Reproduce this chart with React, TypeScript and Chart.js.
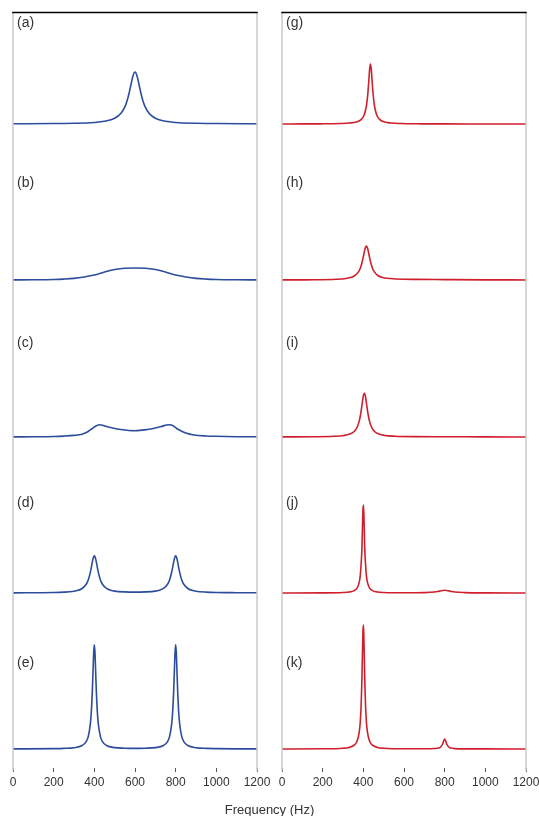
import React, { useEffect, useRef } from "react";
import { Chart, registerables } from "chart.js";

Chart.register(...registerables);

// ---- data (frequency in Hz, amplitude in arbitrary units) ----
const FREQ_MIN = 0;
const FREQ_MAX = 1200;
const FREQ_STEP = 200;

const LEFT_LABELS = ["(a)", "(b)", "(c)", "(d)", "(e)"];
const RIGHT_LABELS = ["(g)", "(h)", "(i)", "(j)", "(k)"];

const panelA: [number, number][] = [
  [0, 0.2], [200, 0.5], [300, 0.7], [400, 1.5], [450, 2.7], [500, 5.7], [530, 10.4], [550, 17.1],
  [560, 22.5], [570, 30], [580, 39.2], [590, 48.1], [600, 52], [610, 48.1], [620, 39.2], [630, 30],
  [640, 22.5], [650, 17.1], [670, 10.4], [700, 5.7], [750, 2.7], [800, 1.5], [900, 0.7], [1000, 0.5], [1200, 0.2],
];
const panelB: [number, number][] = [
  [0, 0.1], [100, 0.2], [200, 0.5], [250, 0.9], [300, 1.6], [350, 3], [400, 5], [420, 6], [450, 8],
  [500, 10.5], [550, 11.8], [600, 12], [650, 11.8], [700, 10.5], [750, 8], [780, 6], [800, 5],
  [850, 3], [900, 1.6], [950, 0.9], [1000, 0.5], [1100, 0.2], [1200, 0.1],
];
const panelC: [number, number][] = [
  [0, 0.1], [100, 0.2], [200, 0.5], [250, 0.9], [300, 1.6], [340, 2.8], [370, 5.5], [390, 8.5],
  [410, 11.2], [425, 12.3], [440, 11.8], [460, 10.5], [490, 9], [530, 7.5], [600, 6.3], [660, 7.5],
  [700, 9], [730, 10.5], [755, 12], [770, 12.3], [785, 11.5], [805, 8.5], [825, 6.3], [850, 4],
  [890, 2], [950, 1], [1000, 0.7], [1100, 0.3], [1200, 0.2],
];
const panelD: [number, number][] = [
  [0, 0.14], [200, 0.5], [250, 0.86], [300, 1.8], [320, 2.7], [340, 4.5], [360, 8.7], [370, 13],
  [380, 20.4], [385, 25.4], [390, 30.8], [395, 35.3], [400, 37.1], [405, 35.3], [410, 30.8], [415, 25.4],
  [420, 20.4], [430, 13], [440, 8.7], [460, 4.55], [480, 2.8], [500, 1.9], [550, 1.1], [600, 0.88],
  [650, 1.1], [700, 1.9], [720, 2.8], [740, 4.55], [760, 8.8], [770, 13.1], [780, 20.5], [785, 25.4],
  [790, 30.8], [795, 35.3], [800, 37.1], [805, 35.3], [810, 30.8], [815, 25.3], [820, 20.4], [830, 13],
  [840, 8.7], [860, 4.5], [880, 2.7], [900, 1.8], [950, 0.9], [1000, 0.5], [1100, 0.3], [1200, 0.2],
];
const panelE: [number, number][] = [
  [0, 0.1], [200, 0.35], [250, 0.6], [300, 1.3], [340, 3.5], [360, 7.4], [370, 12.4], [380, 24.3],
  [385, 36.5], [390, 57.1], [394, 80.3], [397, 96.9], [400, 104.1], [403, 96.9], [406, 80.3], [410, 57.1],
  [415, 36.5], [420, 24.3], [430, 12.4], [440, 7.4], [460, 3.5], [500, 1.4], [550, 0.8], [600, 0.62],
  [650, 0.8], [700, 1.4], [740, 3.5], [760, 7.4], [770, 12.4], [780, 24.3], [785, 36.5], [790, 57.1],
  [794, 80.3], [797, 96.9], [800, 104.1], [803, 96.9], [806, 80.3], [810, 57.1], [815, 36.5], [820, 24.3],
  [830, 12.4], [840, 7.4], [860, 3.5], [900, 1.3], [950, 0.6], [1000, 0.35], [1100, 0.15], [1200, 0.1],
];
const panelG: [number, number][] = [
  [0, 0.05], [100, 0.1], [185, 0.16], [285, 0.45], [335, 1.0], [365, 2.0], [390, 4.6], [405, 9.5],
  [415, 17.8], [422, 30], [427, 43.5], [431, 54.8], [435, 60], [439, 54.8], [443, 43.5], [448, 30],
  [455, 17.8], [465, 9.5], [480, 4.6], [505, 2.0], [535, 1.0], [585, 0.45], [685, 0.16], [800, 0.08],
  [1000, 0.04], [1200, 0.02],
];
const panelH: [number, number][] = [
  [0, 0.1], [100, 0.15], [165, 0.26], [265, 0.73], [315, 1.56], [335, 2.4], [355, 4.0], [375, 7.9],
  [385, 11.8], [393, 17], [400, 23.2], [405, 28.2], [410, 32.3], [415, 34], [420, 32.3], [425, 28.2],
  [430, 23.2], [437, 17], [445, 11.8], [455, 7.9], [475, 4.0], [495, 2.5], [515, 1.7], [565, 1.0],
  [665, 0.6], [800, 0.4], [1000, 0.15], [1200, 0.05],
];
const panelI: [number, number][] = [
  [0, 0.1], [155, 0.25], [255, 0.7], [305, 1.53], [330, 2.65], [355, 5.5], [370, 10], [380, 16.1],
  [386, 22], [390, 27.1], [395, 34.5], [400, 41.1], [405, 44], [410, 41.1], [415, 34.5], [420, 27.1],
  [424, 22], [430, 16.1], [440, 10], [455, 5.5], [480, 2.65], [505, 1.53], [555, 0.8], [655, 0.4],
  [800, 0.3], [1000, 0.1], [1200, 0.05],
];
const panelJ: [number, number][] = [
  [0, 0.03], [200, 0.12], [300, 0.49], [330, 1.0], [355, 2.4], [370, 5.2], [380, 10.9], [385, 17.6],
  [390, 31.7], [393, 44], [396, 68.5], [398, 82.2], [400, 88], [402, 82.2], [404, 68.5], [407, 44],
  [410, 31.7], [415, 17.6], [420, 10.9], [430, 5.2], [445, 2.4], [470, 1.0], [500, 0.5], [600, 0.2],
  [700, 0.4], [750, 1.0], [775, 1.9], [800, 2.7], [825, 1.9], [850, 1.0], [900, 0.4], [1000, 0.15],
  [1200, 0.05],
];
const panelK: [number, number][] = [
  [0, 0.05], [200, 0.2], [300, 0.8], [330, 1.6], [355, 3.8], [370, 8.2], [380, 17.1], [385, 27.4],
  [389, 42.9], [392, 62], [394, 79.4], [396, 99.2], [398, 116.7], [400, 124], [402, 116.7], [404, 99.2],
  [406, 79.4], [408, 62], [411, 42.9], [415, 27.4], [420, 17.1], [430, 8.2], [445, 3.8], [470, 1.6],
  [500, 0.8], [600, 0.25], [700, 0.25], [750, 0.5], [770, 1.0], [780, 2.0], [790, 5], [795, 8],
  [800, 10], [805, 8], [810, 5], [820, 2], [830, 1], [850, 0.4], [900, 0.15], [1000, 0.08], [1200, 0.05],
];

const LEFT_SERIES = [panelA, panelB, panelC, panelD, panelE];
const RIGHT_SERIES = [panelG, panelH, panelI, panelJ, panelK];

// ---- layout (in y-scale units = px above the plot bottom) ----
const Y_MAX = 756;
const OFFSETS = [644, 488, 331, 175, 19];
const LABEL_Y = [745, 585, 425, 265, 105];

const FONT = "'Liberation Sans', Arial, Helvetica, sans-serif";
const BLUE = "#2c4c9c";
const RED = "#cf1f2c";

function makeDecor(labels: string[]) {
  return {
    id: "decor",
    afterDraw(chart: any) {
      const { ctx, chartArea: a, scales } = chart;
      const y = scales.y;
      ctx.save();
      ctx.strokeStyle = "#c9c9c9";
      ctx.lineWidth = 1.5;
      ctx.beginPath();
      ctx.moveTo(a.left, a.top);
      ctx.lineTo(a.left, a.bottom + 3);
      ctx.moveTo(a.right, a.top);
      ctx.lineTo(a.right, a.bottom + 3);
      ctx.stroke();
      ctx.strokeStyle = "#000";
      ctx.lineWidth = 1.5;
      ctx.beginPath();
      ctx.moveTo(a.left - 0.75, Math.round(a.top) + 0.5);
      ctx.lineTo(a.right + 0.75, Math.round(a.top) + 0.5);
      ctx.stroke();
      ctx.fillStyle = "#333";
      ctx.font = `14px ${FONT}`;
      ctx.textBaseline = "middle";
      ctx.textAlign = "left";
      labels.forEach((t, i) => {
        ctx.fillText(t, a.left + 4, y.getPixelForValue(LABEL_Y[i]));
      });
      ctx.restore();
    },
  };
}

function Column(props: {
  series: [number, number][][];
  labels: string[];
  color: string;
  left: number;
  width: number;
  padL: number;
  padR: number;
}) {
  const ref = useRef<HTMLCanvasElement | null>(null);
  useEffect(() => {
    if (!ref.current) return;
    const chart = new Chart(ref.current, {
      type: "line",
      data: {
        datasets: props.series.map((s, i) => ({
          data: s.map(([f, v]) => ({ x: f, y: v + OFFSETS[i] })),
          borderColor: props.color,
          borderWidth: 1.6,
          pointRadius: 0,
          fill: false,
          cubicInterpolationMode: "monotone" as const,
        })),
      },
      options: {
        animation: false,
        responsive: false,
        events: [],
        layout: { padding: { left: props.padL, right: props.padR, top: 12, bottom: 18 } },
        plugins: { legend: { display: false }, tooltip: { enabled: false } },
        scales: {
          x: {
            type: "linear",
            min: FREQ_MIN,
            max: FREQ_MAX,
            border: { display: false },
            grid: {
              display: true,
              drawOnChartArea: false,
              drawTicks: true,
              tickLength: 4,
              color: "#555",
              lineWidth: 1,
            },
            ticks: {
              stepSize: FREQ_STEP,
              autoSkip: false,
              maxRotation: 0,
              color: "#333",
              padding: 3,
              font: { family: FONT, size: 12 },
              callback: (v: any) => String(v),
            },
            afterFit: (scale: any) => {
              scale.height = 30;
              scale.paddingLeft = 0;
              scale.paddingRight = 0;
            },
          },
          y: { type: "linear", display: false, min: 0, max: Y_MAX },
        },
      },
      plugins: [makeDecor(props.labels)],
    });
    return () => chart.destroy();
  }, []);
  return (
    <canvas
      ref={ref}
      width={props.width}
      height={816}
      style={{ position: "absolute", left: props.left, top: 0, width: props.width, height: 816 }}
    />
  );
}

export default function App() {
  return (
    <div
      style={{
        position: "absolute",
        left: 0,
        top: 0,
        width: 539,
        height: 816,
        background: "#fff",
        overflow: "hidden",
      }}
    >
      <Column series={LEFT_SERIES} labels={LEFT_LABELS} color={BLUE} left={0} width={280} padL={13} padR={23} />
      <Column series={RIGHT_SERIES} labels={RIGHT_LABELS} color={RED} left={268} width={271} padL={14} padR={13} />
      <div
        style={{
          position: "absolute",
          left: 0,
          width: 539,
          top: 802,
          textAlign: "center",
          font: `13px ${FONT}`,
          color: "#333",
        }}
      >
        Frequency (Hz)
      </div>
    </div>
  );
}
